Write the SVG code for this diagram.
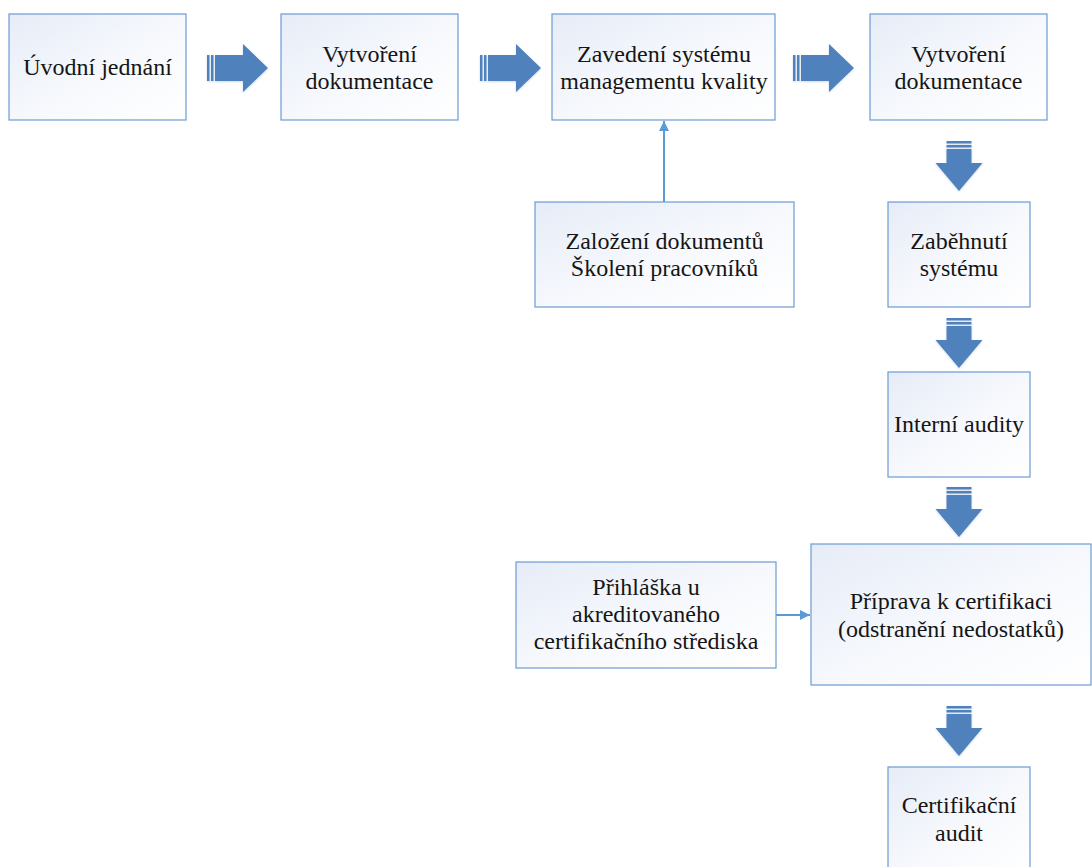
<svg xmlns="http://www.w3.org/2000/svg" width="1092" height="867" viewBox="0 0 1092 867">
  <defs>
    <linearGradient id="boxFill" x1="0" y1="0" x2="1" y2="1">
      <stop offset="0" stop-color="#E6ECF7"/>
      <stop offset="0.55" stop-color="#F7F9FD"/>
      <stop offset="1" stop-color="#FFFFFF"/>
    </linearGradient>
    <filter id="soft" x="-20%" y="-20%" width="140%" height="140%">
      <feGaussianBlur in="SourceAlpha" stdDeviation="1.2"/>
      <feOffset dx="0" dy="1" result="b"/>
      <feFlood flood-color="#9DB7D8" flood-opacity="0.5"/>
      <feComposite in2="b" operator="in"/>
      <feMerge><feMergeNode/><feMergeNode in="SourceGraphic"/></feMerge>
    </filter>
    <marker id="tri" viewBox="0 0 10 10" refX="10" refY="5" markerWidth="10" markerHeight="10" markerUnits="userSpaceOnUse" orient="auto">
      <path d="M0,0 L10,5 L0,10 Z" fill="#5B9BD5"/>
    </marker>
    <!-- striped block arrow pointing right, origin at tail centre -->
    <g id="blockRight" filter="url(#soft)">
      <rect x="0" y="-13" width="2.5" height="26"/>
      <rect x="4" y="-13" width="2.5" height="26"/>
      <path d="M8,-13 H36 V-24 L61,0 L36,24 V13 H8 Z"/>
    </g>
    <!-- striped block arrow pointing down, origin at tail centre -->
    <g id="blockDown" filter="url(#soft)">
      <rect x="-12.5" y="0" width="25" height="2.5"/>
      <rect x="-12.5" y="4" width="25" height="2.5"/>
      <path d="M-12.5,8 V22 H-23.5 L0,50 L23.5,22 H12.5 V8 Z"/>
    </g>
  </defs>
  <style>
    .box { fill: url(#boxFill); stroke: #6C9BD2; stroke-width: 1.2; }
    .lbl { font-family: 'Liberation Serif', 'Times New Roman', serif; font-size: 24px; fill: #151515; text-anchor: middle; }
    .blk { fill: #4F81BD; }
    .thin { stroke: #5B9BD5; stroke-width: 2; fill: none; }
  </style>

  <rect width="1092" height="867" fill="#FFFFFF"/>

  <!-- connectors -->
  <g id="connectors">
    <use href="#blockRight" class="blk" x="207" y="68"/>
    <use href="#blockRight" class="blk" x="480" y="68"/>
    <use href="#blockRight" class="blk" x="793" y="68"/>
    <use href="#blockDown" class="blk" x="959" y="141"/>
    <use href="#blockDown" class="blk" x="959" y="318"/>
    <use href="#blockDown" class="blk" x="959" y="487"/>
    <use href="#blockDown" class="blk" x="959" y="706"/>
    <line class="thin" x1="664" y1="202" x2="664" y2="121" marker-end="url(#tri)"/>
    <line class="thin" x1="776" y1="615" x2="810" y2="615" marker-end="url(#tri)"/>
  </g>

  <g id="uvodni-jednani">
    <rect class="box" x="9" y="14" width="177" height="106"/>
    <text class="lbl" x="97.5" y="75">Úvodní jednání</text>
  </g>

  <g id="vytvoreni-dokumentace-1">
    <rect class="box" x="281" y="14" width="177" height="106"/>
    <text class="lbl" x="369.5" y="62">Vytvoření</text>
    <text class="lbl" x="369.5" y="89">dokumentace</text>
  </g>

  <g id="zavedeni-systemu">
    <rect class="box" x="552" y="14" width="223" height="106"/>
    <text class="lbl" x="664" y="62">Zavedení systému</text>
    <text class="lbl" x="664" y="89">managementu kvality</text>
  </g>

  <g id="vytvoreni-dokumentace-2">
    <rect class="box" x="870" y="14" width="177" height="106"/>
    <text class="lbl" x="958.5" y="62">Vytvoření</text>
    <text class="lbl" x="958.5" y="89">dokumentace</text>
  </g>

  <g id="zalozeni-dokumentu">
    <rect class="box" x="535" y="202" width="259" height="105"/>
    <text class="lbl" x="664.5" y="249">Založení dokumentů</text>
    <text class="lbl" x="664.5" y="276">Školení pracovníků</text>
  </g>

  <g id="zabehnuti-systemu">
    <rect class="box" x="888" y="202" width="142" height="105"/>
    <text class="lbl" x="959" y="249">Zaběhnutí</text>
    <text class="lbl" x="959" y="276">systému</text>
  </g>

  <g id="interni-audity">
    <rect class="box" x="888" y="372" width="142" height="105"/>
    <text class="lbl" x="959" y="432">Interní audity</text>
  </g>

  <g id="prihlaska">
    <rect class="box" x="516" y="562" width="260" height="106"/>
    <text class="lbl" x="646" y="595">Přihláška u</text>
    <text class="lbl" x="646" y="622">akreditovaného</text>
    <text class="lbl" x="646" y="649">certifikačního střediska</text>
  </g>

  <g id="priprava-k-certifikaci">
    <rect class="box" x="811" y="544" width="280" height="141"/>
    <text class="lbl" x="951" y="609">Příprava k certifikaci</text>
    <text class="lbl" x="951" y="637">(odstranění nedostatků)</text>
  </g>

  <g id="certifikacni-audit">
    <rect class="box" x="888" y="767" width="142" height="110"/>
    <text class="lbl" x="959" y="813">Certifikační</text>
    <text class="lbl" x="959" y="841">audit</text>
  </g>
</svg>
